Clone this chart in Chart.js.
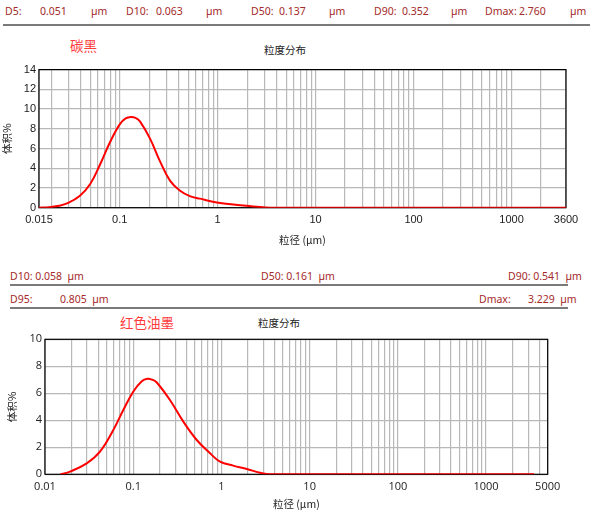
<!DOCTYPE html>
<html>
<head>
<meta charset="utf-8">
<script src="https://cdn.jsdelivr.net/npm/chart.js@4.4.1/dist/chart.umd.min.js"></script>
<style>
  body { margin: 0; width: 592px; height: 512px; background: #fff; position: relative; overflow: hidden; }
  .t { position: absolute; font-family: "Noto Sans", "Open Sans", sans-serif; font-size: 10.5px; color: #a52a2a; white-space: pre; line-height: 1; }
  .cap { position: absolute; font-family: "Noto Sans CJK SC", sans-serif; font-size: 10.5px; color: #222; line-height: 1; }
  .red { position: absolute; font-family: "Noto Sans CJK SC", sans-serif; font-size: 13.5px; color: #ff3b3b; line-height: 1; }
  .rule { position: absolute; height: 2px; background: #7a7a7a; }
  canvas { position: absolute; left: 0; }
</style>
</head>
<body>
<!-- top summary -->
<div class="t" style="left:5px;top:6px">D5:</div>
<div class="t" style="left:40px;top:6px">0.051</div>
<div class="t" style="left:91px;top:6px">µm</div>
<div class="t" style="left:126px;top:6px">D10:</div>
<div class="t" style="left:156px;top:6px">0.063</div>
<div class="t" style="left:206px;top:6px">µm</div>
<div class="t" style="left:251px;top:6px">D50:</div>
<div class="t" style="left:279px;top:6px">0.137</div>
<div class="t" style="left:329px;top:6px">µm</div>
<div class="t" style="left:374px;top:6px">D90:</div>
<div class="t" style="left:402px;top:6px">0.352</div>
<div class="t" style="left:451px;top:6px">µm</div>
<div class="t" style="left:485px;top:6px">Dmax:</div>
<div class="t" style="left:519px;top:6px">2.760</div>
<div class="t" style="left:570px;top:6px">µm</div>
<div class="rule" style="left:3px;top:24px;width:587px"></div>
<div class="red" style="left:70px;top:39px">碳黑</div>
<div class="cap" style="left:264px;top:45px">粒度分布</div>

<!-- second summary -->
<div class="t" style="left:10px;top:271px">D10: 0.058  µm</div>
<div class="t" style="left:261px;top:271px">D50: 0.161  µm</div>
<div class="t" style="left:508px;top:271px">D90: 0.541  µm</div>
<div class="rule" style="left:10px;top:284px;width:558px"></div>
<div class="t" style="left:10px;top:294px">D95:</div>
<div class="t" style="left:60px;top:294px">0.805  µm</div>
<div class="t" style="left:479px;top:294px">Dmax:</div>
<div class="t" style="left:528px;top:294px">3.229  µm</div>
<div class="rule" style="left:10px;top:307px;width:558px"></div>
<div class="red" style="left:120px;top:316px">红色油墨</div>
<div class="cap" style="left:258px;top:318px">粒度分布</div>

<canvas id="c1" width="592" height="190" style="top:60px"></canvas>
<canvas id="c2" width="592" height="194" style="top:318px"></canvas>

<script>
// carbon black
const sizes1 = [0.015, 0.019, 0.024, 0.029, 0.039, 0.050, 0.063, 0.080, 0.100, 0.115, 0.130, 0.145, 0.161, 0.204, 0.258, 0.326, 0.41, 0.52, 0.66, 0.98, 1.44, 2.1, 3.1, 4.0, 3600];
const volume1 = [0, 0.05, 0.2, 0.43, 1.18, 2.4, 4.38, 6.68, 8.45, 9.05, 9.2, 9.1, 8.75, 7.0, 4.7, 2.75, 1.75, 1.18, 0.92, 0.53, 0.33, 0.17, 0.03, 0, 0];
const xLabels1 = [0.015, 0.1, 1, 10, 100, 1000, 3600];

// red ink
const sizes2 = [0.015, 0.0192, 0.0297, 0.042, 0.0595, 0.0772, 0.100, 0.125, 0.145, 0.165, 0.185, 0.261, 0.37, 0.525, 0.743, 0.964, 1.36, 1.94, 2.74, 3.56, 3500];
const volume2 = [0, 0.2, 0.81, 1.68, 3.28, 4.76, 6.12, 6.9, 7.08, 7.0, 6.8, 5.5, 3.9, 2.54, 1.56, 0.94, 0.64, 0.39, 0.12, 0, 0];
const xLabels2 = [0.01, 0.1, 1, 10, 100, 1000, 5000];

const X_TITLE = '粒径 (µm)';
const Y_TITLE = '体积%';

// 1..9 per decade between min and max, plus the ends
function logGrid(min, max, lastLine) {
    let out = [min];
    for (let d = 0.01; d <= 1000; d *= 10) {
        for (let m = 1; m <= 9; m++) {
            let v = Number((m * d).toPrecision(6));
            if (v > min && v <= lastLine) out.push(v);
        }
    }
    out.push(max);
    return out;
}

// black frame round the plot
const frame = {
    id: 'frame',
    beforeDatasetsDraw(chart) {
        const a = chart.chartArea, ctx = chart.ctx;
        ctx.save();
        ctx.strokeStyle = '#000';
        ctx.lineWidth = 1.2;
        ctx.strokeRect(a.left, a.top, a.right - a.left, a.bottom - a.top);
        ctx.restore();
    }
};

function makeChart(id, sizes, volume, opt) {
    const ctx = document.getElementById(id).getContext('2d');
    const grid = logGrid(opt.xMin, opt.xMax, opt.lastLine);
    return new Chart(ctx, {
        type: 'line',
        data: {
            datasets: [{
                data: sizes.map((s, i) => ({ x: s, y: volume[i] })),
                borderColor: '#ff0000',
                borderWidth: 2,
                pointRadius: 0,
                tension: 0.4,
                fill: false
            }]
        },
        options: {
            responsive: false,
            animation: false,
            layout: { padding: opt.padding },
            plugins: { legend: { display: false }, tooltip: { enabled: false } },
            scales: {
                x: {
                    type: 'logarithmic',
                    min: opt.xMin,
                    max: opt.xMax,
                    afterBuildTicks: s => { s.ticks = grid.map(v => ({ value: v })); },
                    afterFit: s => { s.height = opt.xHeight; },
                    grid: { color: '#b8b8b8', lineWidth: 1.2, drawTicks: false },
                    border: { display: false },
                    ticks: {
                        autoSkip: false,
                        maxRotation: 0,
                        padding: 6,
                        color: '#222',
                        font: { family: opt.tickFont, size: 11 },
                        callback: v => opt.labels.includes(v) ? String(v) : ''
                    },
                    title: {
                        display: true,
                        text: X_TITLE,
                        color: '#222',
                        font: { family: '"Noto Sans CJK SC", sans-serif', size: 10.5, lineHeight: 1.2 },
                        padding: { top: 0, bottom: opt.xTitlePad }
                    }
                },
                y: {
                    min: 0,
                    max: opt.yMax,
                    afterFit: s => { s.width = opt.yWidth; },
                    grid: { color: '#b8b8b8', lineWidth: 1.2, drawTicks: false },
                    border: { display: false },
                    ticks: {
                        stepSize: 2,
                        padding: 3,
                        color: '#222',
                        font: { family: opt.tickFont, size: 11 }
                    },
                    title: {
                        display: true,
                        text: Y_TITLE,
                        color: '#222',
                        font: { family: '"Noto Sans CJK SC", sans-serif', size: 10.5, lineHeight: 1.2 },
                        padding: { top: opt.yTitlePad, bottom: 0 }
                    }
                }
            }
        },
        plugins: [frame]
    });
}

window.onload = function() {
    makeChart('c1', sizes1, volume1, {
        xMin: 0.015, xMax: 3600, lastLine: 2000, labels: xLabels1, yMax: 14,
        padding: { top: 5.7, right: 26, left: 0, bottom: 0 },
        xHeight: 42.3, yWidth: 39, xTitlePad: 3.4, yTitlePad: 1,
        tickFont: '"Liberation Sans", Arial, sans-serif'
    });
    makeChart('c2', sizes2, volume2, {
        xMin: 0.01, xMax: 5000, lastLine: 4000, labels: xLabels2, yMax: 10,
        padding: { top: 21.3, right: 44.3, left: 0, bottom: 0 },
        xHeight: 37.7, yWidth: 45, xTitlePad: 1.4, yTitlePad: 6,
        tickFont: '"Open Sans", "Noto Sans", sans-serif'
    });
};
</script>
</body>
</html>
